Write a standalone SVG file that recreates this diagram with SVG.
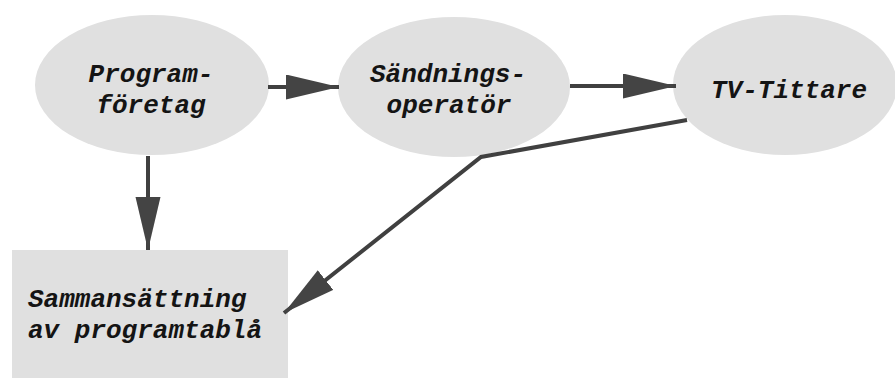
<svg xmlns="http://www.w3.org/2000/svg" width="895" height="378" viewBox="0 0 895 378">
  <style>
    .node { fill: #e0e0e0; stroke: none; }
    .label { font-family: "Liberation Mono", "Courier New", monospace; font-size: 26px; font-weight: bold; font-style: italic; fill: #141414; }
    .mid { text-anchor: middle; }
    .edge { fill: none; stroke: #404040; stroke-width: 4; stroke-linejoin: miter; }
  </style>
  <defs>
    <marker id="arrow" markerUnits="userSpaceOnUse" markerWidth="54" markerHeight="26" refX="53" refY="12.5" orient="auto" viewBox="0 0 54 26">
      <path d="M0,0 L53,12.5 L0,25 Z" fill="#444444"/>
    </marker>
  </defs>
  <rect width="895" height="378" fill="#ffffff"/>

  <g id="programforetag">
    <ellipse class="node" cx="152" cy="85" rx="117" ry="70"/>
    <text class="label mid" x="151" y="82">Program-</text>
    <text class="label mid" x="151" y="113">företag</text>
  </g>

  <g id="sandningsoperator">
    <ellipse class="node" cx="454" cy="87" rx="116" ry="70"/>
    <text class="label mid" x="448" y="82">Sändnings-</text>
    <text class="label mid" x="449" y="113">operatör</text>
  </g>

  <g id="tv-tittare">
    <ellipse class="node" cx="785" cy="85" rx="112" ry="70"/>
    <text class="label mid" x="789" y="98">TV-Tittare</text>
  </g>

  <g id="sammansattning">
    <rect class="node" x="12" y="250" width="276" height="130"/>
    <text class="label" x="28" y="307">Sammansättning</text>
    <text class="label" x="28" y="338">av programtablå</text>
  </g>

  <g id="connectors">
    <line class="edge" x1="268" y1="87" x2="339" y2="87" marker-end="url(#arrow)"/>
    <line class="edge" x1="570" y1="86" x2="676" y2="86" marker-end="url(#arrow)"/>
    <line class="edge" x1="148" y1="156" x2="148" y2="250" marker-end="url(#arrow)"/>
    <polyline class="edge" points="687,120 481,157 284,313" marker-end="url(#arrow)"/>
  </g>
</svg>
